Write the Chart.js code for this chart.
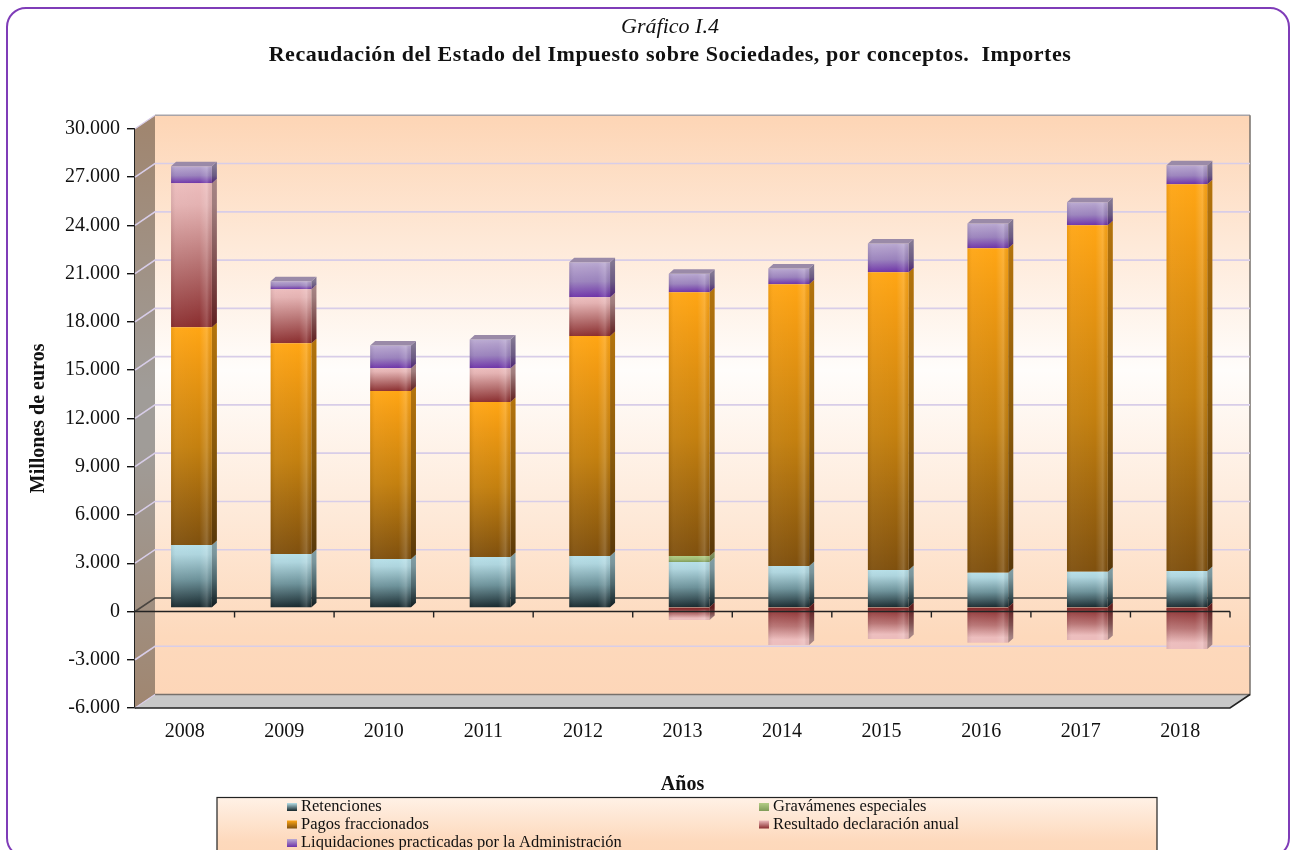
<!DOCTYPE html>
<html lang="es"><head><meta charset="utf-8">
<script src="https://cdn.jsdelivr.net/npm/chart.js@4"></script>
<style>
html,body{margin:0;padding:0;background:#fff;overflow:hidden;width:1290px;height:850px}
#frame{position:absolute;left:6px;top:7px;width:1284px;height:851px;box-sizing:border-box;border:2px solid #7f3cb8;border-radius:20px}
#wrap{position:absolute;left:0;top:0;width:1290px;height:850px}
</style></head><body>
<div id="frame"></div>
<div id="wrap"><canvas id="c" width="1290" height="850"></canvas></div>
<script>
const categories = ['2008','2009','2010','2011','2012','2013','2014','2015','2016','2017','2018'];
const retenciones = [3910,3350,3040,3170,3230,2860,2610,2360,2190,2250,2300];
const gravamenes = [0,0,0,0,0,370,0,0,0,0,0];
const pagos = [13540,13110,10440,9630,13670,16400,17510,18510,20170,21540,24040];
const resultado = [8950,3350,1420,2100,2420,-745,-2300,-1925,-2155,-1990,-2550];
const liquidaciones = [1050,500,1420,1780,2170,1150,980,1780,1530,1430,1180];
const titleText = 'Gráfico I.4';
const subtitleText = 'Recaudación del Estado del Impuesto sobre Sociedades, por conceptos.  Importes';
const yTitle = 'Millones de euros';
const xTitle = 'Años';
const serif = '"Liberation Serif","Times New Roman",serif';

const ramps = [
  {hi:'#b6dfe8',a:'#aed5de',mid:'#6d929a',lo:'#15252a'},
  {hi:'#b3cc85',a:'#a9c77f',mid:'#a0bb74',lo:'#7f9c58'},
  {hi:'#ffa614',a:'#f09a12',mid:'#c4800f',lo:'#7f500e'},
  {hi:'#ecbcbc',a:'#e4b2b2',mid:'#b87474',lo:'#8a2d2e'},
  {hi:'#baaad2',a:'#b09dca',mid:'#9a82bc',lo:'#6d32a8'}
];
const seriesArrays = [retenciones,gravamenes,pagos,resultado,liquidaciones];

function segBounds(dsi,i){
  const v = seriesArrays[dsi][i]; let base = 0;
  for(let k=0;k<dsi;k++){const w=seriesArrays[k][i]; if((w<0)===(v<0)) base+=w;}
  return [base,base+v];
}
function rampFor(c){
  const chart=c.chart, y=chart.scales.y, dsi=c.datasetIndex, i=c.dataIndex;
  if(!y || i===undefined) return ramps[dsi].hi;
  const [a,b]=segBounds(dsi,i), r=ramps[dsi];
  const p0=y.getPixelForValue(Math.max(a,b)), p1=y.getPixelForValue(Math.min(a,b));
  if(!isFinite(p0)||!isFinite(p1)||p0===p1) return r.hi;
  const g=chart.ctx.createLinearGradient(0,p0,0,p1);
  if(b<0){ g.addColorStop(0,r.lo); g.addColorStop(.5,r.mid); g.addColorStop(.85,r.hi); g.addColorStop(1,r.hi); }
  else { g.addColorStop(0,r.hi); g.addColorStop(.15,r.a); g.addColorStop(.55,r.mid); g.addColorStop(1,r.lo); }
  return g;
}
const DX=6.7, DY=-3.5, SW=5, SH=4.5, WX=20, WY=-13.5;

const scenePlugin = {
  id:'scene',
  afterLayout(chart){
    chart.boxes.filter(b=>b.options&&b.options.text).forEach(b=>{
      b.right=1340;
      if(b.options.text===subtitleText && !b.$sp){
        const d=b.draw; b.$sp=true;
        b.draw=function(){const ctx=this.ctx;ctx.letterSpacing='0.55px';d.call(this);ctx.letterSpacing='0px';};
      }
    });
  },
  beforeDatasetsDraw(chart){
    const {ctx,chartArea:a,scales:{x,y}}=chart;
    ctx.save();
    const L=a.left,R=a.right,T=a.top,B=a.bottom;
    let g=ctx.createLinearGradient(0,T,0,B);
    g.addColorStop(0,'#a08670');g.addColorStop(.45,'#a09c98');g.addColorStop(.55,'#a09c98');g.addColorStop(1,'#a08670');
    ctx.fillStyle=g;ctx.beginPath();ctx.moveTo(L,T);ctx.lineTo(L+WX,T+WY);ctx.lineTo(L+WX,B+WY);ctx.lineTo(L,B);ctx.closePath();ctx.fill();
    g=ctx.createLinearGradient(0,T+WY,0,B+WY);
    g.addColorStop(0,'#fdd5b5');g.addColorStop(.44,'#fffdfb');g.addColorStop(.9,'#fdd9bc');g.addColorStop(1,'#fdd6b8');
    ctx.fillStyle=g;ctx.fillRect(L+WX,T+WY,R-L,B-T);
    ctx.fillStyle='#c8c8c8';ctx.beginPath();ctx.moveTo(L,B);ctx.lineTo(L+WX,B+WY);ctx.lineTo(R+WX,B+WY);ctx.lineTo(R,B);ctx.closePath();ctx.fill();
    ctx.strokeStyle='#a8a4a8';ctx.lineWidth=1.5;
    ctx.beginPath();ctx.moveTo(L+WX,T+WY);ctx.lineTo(R+WX,T+WY);ctx.stroke();
    ctx.strokeStyle='#77716c';
    ctx.beginPath();ctx.moveTo(R+WX,T+WY);ctx.lineTo(R+WX,B+WY);ctx.lineTo(L+WX,B+WY);ctx.stroke();
    y.ticks.forEach(t=>{
      const p=y.getPixelForValue(t.value); if(t.value===-6000||t.value===30000)return;
      ctx.strokeStyle=t.value===0?'#4a4540':'#d8cde8';ctx.lineWidth=1.6;
      ctx.beginPath();ctx.moveTo(L,p);ctx.lineTo(L+WX,p+WY);ctx.lineTo(R+WX,p+WY);ctx.stroke();
    });
    ctx.strokeStyle='#d8cde8';ctx.lineWidth=1.2;
    ctx.beginPath();ctx.moveTo(L,T);ctx.lineTo(L+WX,T+WY);ctx.moveTo(L,B);ctx.lineTo(L+WX,B+WY);ctx.stroke();
    ctx.strokeStyle='#222';ctx.lineWidth=1.6;
    ctx.beginPath();ctx.moveTo(L,B);ctx.lineTo(R,B);ctx.lineTo(R+WX,B+WY);ctx.stroke();
    ctx.restore();
    ctx.save();ctx.translate(DX,DY);
  },
  afterDatasetsDraw(chart){
    const {ctx,chartArea:a,scales:{x,y}}=chart;
    chart.data.datasets.forEach((ds,dsi)=>{
      chart.getDatasetMeta(dsi).data.forEach((el,i)=>{
        const top=Math.min(el.y,el.base),bot=Math.max(el.y,el.base),hw=el.width/2,xr=el.x+hw,xl=el.x-hw;
        if(bot-top<.5)return;
        const s=ctx.createLinearGradient(xl,0,xr,0);
        s.addColorStop(0,'rgba(0,0,0,.07)');s.addColorStop(.12,'rgba(255,255,255,.04)');s.addColorStop(.7,'rgba(255,255,255,0)');
        s.addColorStop(.88,'rgba(255,255,255,.16)');s.addColorStop(1,'rgba(0,0,0,.04)');
        ctx.fillStyle=s;ctx.fillRect(xl,top,hw*2,bot-top);
        // close the seam between the positive stack and the part below zero
        const neg=seriesArrays[dsi][i]<0, lift=neg?1.5:0;
        if(neg){ctx.fillStyle=ramps[dsi].lo;ctx.fillRect(xl,top-1,hw*2,2);}
        ctx.beginPath();ctx.moveTo(xr,top-lift);ctx.lineTo(xr+SW,top-SH-lift);ctx.lineTo(xr+SW,bot-SH);ctx.lineTo(xr,bot);ctx.closePath();
        ctx.fillStyle=el.options.backgroundColor;ctx.fill();
        ctx.fillStyle='rgba(0,0,0,.3)';ctx.fill();
        if(dsi===4){
          ctx.beginPath();ctx.moveTo(xl,top);ctx.lineTo(xl+SW,top-SH);ctx.lineTo(xr+SW,top-SH);ctx.lineTo(xr,top);ctx.closePath();
          ctx.fillStyle='#9a8aa8';ctx.fill();
        }
      });
    });
    ctx.restore();
    ctx.save();
    const p=y.getPixelForValue(0);
    ctx.strokeStyle='#222';ctx.lineWidth=1.4;
    ctx.beginPath();ctx.moveTo(a.left,p);ctx.lineTo(a.right,p);
    for(let i=0;i<categories.length;i++){
      const q=x.getPixelForValue(i)+(x.getPixelForValue(1)-x.getPixelForValue(0))/2;
      ctx.moveTo(q,p);ctx.lineTo(q,p+6);
    }
    ctx.stroke();
    ctx.restore();
  },
  afterDraw(chart){
    const {ctx}=chart;
    ctx.save();
    const bx=217,by=797.5,bw=940,bh=80;
    const g=ctx.createLinearGradient(0,by,0,by+bh);
    g.addColorStop(0,'#fff1e6');g.addColorStop(.55,'#fdd9bc');g.addColorStop(1,'#fdd5b5');
    ctx.fillStyle=g;ctx.fillRect(bx,by,bw,bh);
    ctx.strokeStyle='#222';ctx.lineWidth=1.2;ctx.strokeRect(bx,by,bw,bh);
    const cells=[[0,287,807],[1,759,807],[2,287,824.5],[3,759,824.5],[4,287,843]];
    ctx.font='16.5px '+serif;ctx.textBaseline='middle';ctx.textAlign='left';
    cells.forEach(([d,sx,sy])=>{
      const r=ramps[d];
      const s=ctx.createLinearGradient(0,sy-4,0,sy+4);
      s.addColorStop(0,r.hi);s.addColorStop(1,r.lo);
      ctx.fillStyle=s;ctx.fillRect(sx,sy-4,10,8);
      ctx.fillStyle='#111';ctx.fillText(chart.data.datasets[d].label,sx+14,sy);
    });
    ctx.restore();
  }
};

new Chart(document.getElementById('c'),{
  type:'bar',
  data:{labels:categories,datasets:[
    {label:'Retenciones',data:retenciones},
    {label:'Gravámenes especiales',data:gravamenes},
    {label:'Pagos fraccionados',data:pagos},
    {label:'Resultado declaración anual',data:resultado},
    {label:'Liquidaciones practicadas por la Administración',data:liquidaciones}
  ].map(d=>Object.assign(d,{backgroundColor:rampFor,borderWidth:0,barPercentage:.41,categoryPercentage:1}))},
  plugins:[scenePlugin],
  options:{
    responsive:false,animation:false,
    layout:{padding:{left:0,right:60,top:0,bottom:53}},
    plugins:{
      legend:{display:false},tooltip:{enabled:false},
      title:{display:true,text:titleText,color:'#111',font:{family:serif,size:22,style:'italic',weight:'normal'},padding:{top:14,bottom:2}},
      subtitle:{display:true,text:subtitleText,color:'#111',font:{family:serif,size:22,weight:'bold'},padding:{top:0,bottom:60}}
    },
    scales:{
      x:{stacked:true,
        grid:{display:false},border:{display:false},
        ticks:{color:'#111',font:{family:serif,size:20},padding:4,maxRotation:0,autoSkip:false},
        title:{display:true,text:xTitle,color:'#111',font:{family:serif,size:20,weight:'bold'},padding:{top:20,bottom:0}},
        afterFit(s){s.height=89;}
      },
      y:{stacked:true,min:-6000,max:30000,
        grid:{drawOnChartArea:false,color:'#111',tickLength:8,lineWidth:1.4},
        border:{display:true,color:'#222',width:2},
        ticks:{stepSize:3000,color:'#111',font:{family:serif,size:20},padding:7,
          callback:v=>String(v).replace(/\B(?=(\d{3})+$)/g,'.')},
        title:{display:true,text:yTitle,color:'#111',font:{family:serif,size:20,weight:'bold'},padding:{top:27,bottom:8}},
        afterFit(s){s.width=135;}
      }
    }
  }
});
</script>
</body></html>
